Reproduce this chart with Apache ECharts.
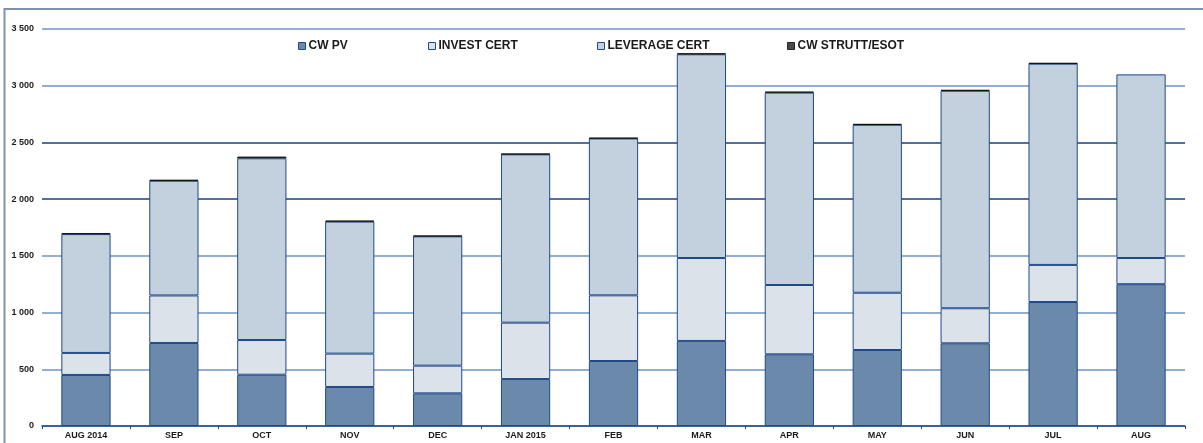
<!DOCTYPE html>
<html>
<head>
<meta charset="utf-8">
<script src="https://cdn.jsdelivr.net/npm/echarts@6/dist/echarts.min.js"></script>
<style>
  html, body { margin: 0; padding: 0; background: #fff; }
  #chart { width: 1203px; height: 443px; }
</style>
</head>
<body>
<div id="chart"></div>
<script>
const months = ['AUG 2014', 'SEP', 'OCT', 'NOV', 'DEC', 'JAN 2015', 'FEB', 'MAR', 'APR', 'MAY', 'JUN', 'JUL', 'AUG']
const cwPv = [450, 732, 452, 344, 288, 414, 573, 750, 632, 670, 729, 1093, 1250]
const investCert = [194, 419, 306, 294, 244, 497, 579, 731, 611, 505, 309, 327, 231]
const leverageCert = [1048, 1011, 1602, 1164, 1140, 1484, 1383, 1796, 1696, 1480, 1917, 1774, 1619]
const cwStrutt = [8, 8, 15, 8, 6, 5, 5, 8, 8, 8, 8, 6, 0]

const seriesNames = ['CW PV', 'INVEST CERT', 'LEVERAGE CERT', 'CW STRUTT/ESOT']
const seriesColors = ['#6a89ab', '#dbe2ea', '#c3d0dd', '#4a4a4a']
const legendLeft = [293, 423, 592, 782]

const font = 'Arial, "Liberation Sans", sans-serif'

const chart = echarts.init(document.getElementById('chart'))

// thousands with a space, like "3 500"
const fmt = v => String(v).replace(/\B(?=(\d{3})+(?!\d))/g, ' ')

const dataBySeries = [cwPv, investCert, leverageCert, cwStrutt]

const series = seriesNames.map((name, i) => ({
  name: name,
  type: 'bar',
  stack: 'total',
  barWidth: '56%',
  // zero -> no mark, so no stray border line on top
  data: dataBySeries[i].map(v => (v === 0 ? '-' : v)),
  itemStyle: {
    color: seriesColors[i],
    borderColor: i === 3 ? '#111' : '#1f4a8a',
    borderWidth: 1
  },
  emphasis: { disabled: true }
}))

const legends = seriesNames.map((name, i) => ({
  data: [name],
  left: legendLeft[i],
  top: 35,
  itemWidth: 7,
  itemHeight: 7,
  itemGap: 3,
  icon: 'rect',
  itemStyle: { borderColor: i === 3 ? '#222' : '#1f4a8a', borderWidth: 1 },
  textStyle: { fontFamily: font, fontSize: 12, fontWeight: 'bold', color: '#1a1a1a', padding: [0, 0, 0, -2] },
  selectedMode: false
}))

const option = {
  animation: false,
  graphic: [{
    type: 'rect',
    shape: { x: 4.5, y: 9, width: 1400, height: 1000 },
    style: { fill: 'none', stroke: '#7d93ad', lineWidth: 2 },
    silent: true
  }],
  legend: legends,
  grid: { left: 42, right: 18, top: 29, bottom: 17 },
  xAxis: {
    type: 'category',
    data: months,
    axisLine: { lineStyle: { color: '#1f4a8a', width: 1.5 } },
    axisTick: { show: true, length: 3, lineStyle: { color: '#1f4a8a' } },
    axisLabel: { fontFamily: font, fontSize: 9, fontWeight: 'bold', color: '#1a1a1a', margin: 5 }
  },
  yAxis: {
    type: 'value',
    min: 0,
    max: 3500,
    interval: 500,
    axisLine: { show: false },
    axisTick: { show: false },
    axisLabel: { fontFamily: font, fontSize: 9, fontWeight: 'bold', color: '#1a1a1a', margin: 8, formatter: fmt },
    splitLine: {
      lineStyle: {
        color: ['#6f93c4', '#6f93c4', '#6f93c4', '#6f93c4', '#1c3f80', '#1c3f80', '#6f93c4', '#6f93c4'],
        width: 1.5
      }
    }
  },
  series: series
}

chart.setOption(option)
</script>
</body>
</html>
